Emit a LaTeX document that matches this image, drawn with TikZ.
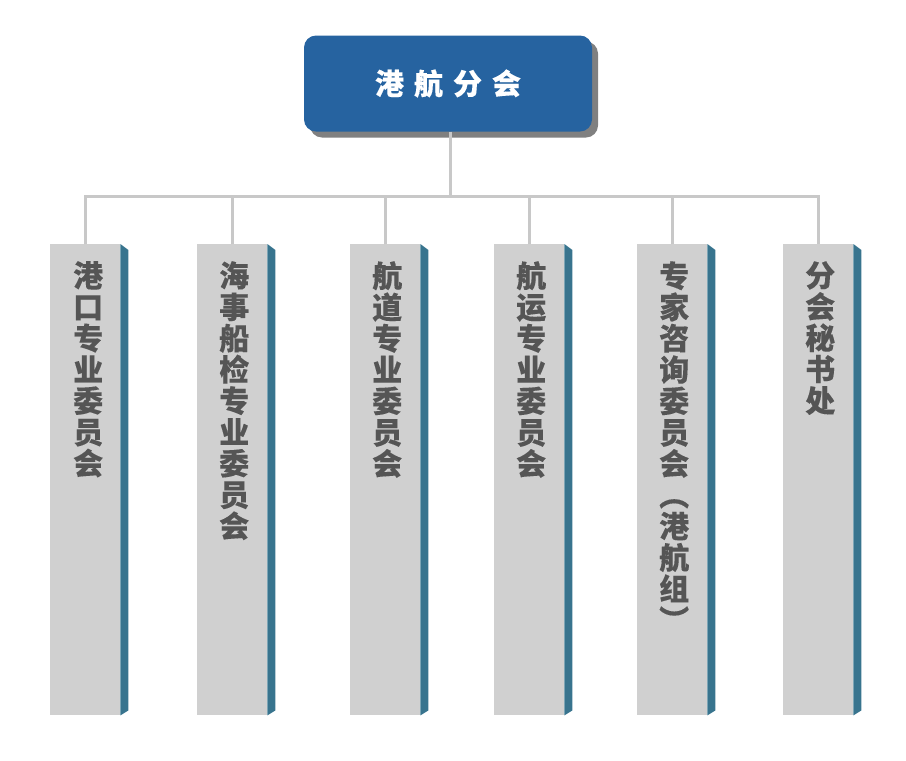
\documentclass[tikz,border=0pt]{standalone}
\usepackage{fontspec}
\newfontfamily\cjk{Noto Sans CJK SC}[FakeBold=0.15]
\definecolor{topblue}{RGB}{38,99,160}
\definecolor{shadowgrey}{RGB}{128,128,128}
\definecolor{facegrey}{RGB}{208,208,208}
\definecolor{sideteal}{RGB}{56,116,142}
\definecolor{txtgrey}{RGB}{85,85,85}
\definecolor{linegrey}{RGB}{200,200,200}
\tikzset{
  topbox/.style={minimum width=288pt, minimum height=96pt, inner sep=0pt,
    rounded corners=12pt, fill=topblue, text=white,
    preaction={fill=shadowgrey, transform canvas={shift={(6pt,-6pt)}}},
    font=\cjk\bfseries\fontsize{29}{30}\selectfont},
  colbox/.style={minimum width=70pt, minimum height=471pt, inner sep=0pt,
    fill=facegrey, anchor=north west},
  coltext/.style={anchor=north, inner sep=0pt, align=center, text=txtgrey,
    font=\cjk\bfseries\fontsize{30}{31.3}\selectfont},
  side/.style={fill=sideteal},
  conn/.style={draw=linegrey, line width=3pt}
}
\newcommand{\sideface}[1]{\fill[side] (#1.north east) -- ++(8,6) -- ([shift={(8,-5)}]#1.south east) -- (#1.south east) -- cycle;}
\begin{document}
\begin{tikzpicture}[x=1pt,y=-1pt]
\useasboundingbox (0,0) rectangle (906,761);
\node[topbox] (top) at (448,83.5) {港\hspace{10pt}航\hspace{10pt}分\hspace{10pt}会\hspace{12pt}};
\node[colbox] (b1) at (50,244) {};
\node[colbox] (b2) at (197,244) {};
\node[colbox] (b3) at (350,244) {};
\node[colbox] (b4) at (494,244) {};
\node[colbox] (b5) at (637,244) {};
\node[colbox] (b6) at (783,244) {};
\foreach \b in {b1,b2,b3,b4,b5,b6}{\sideface{\b}}
\coordinate (bus) at (450,196);
\draw[conn] (top.south -| bus) -- (bus);
\draw[conn] (b1.north) -- (b1.north |- bus) -- (b6.north |- bus) -- (b6.north);
\foreach \b in {b2,b3,b4,b5}{\draw[conn] (\b.north) -- (\b.north |- bus);}
\node[coltext] (t1) at ([yshift=-17pt,xshift=3pt]b1.north) {港\\口\\专\\业\\委\\员\\会};
\node[coltext] (t2) at ([yshift=-17pt,xshift=2pt]b2.north) {海\\事\\船\\检\\专\\业\\委\\员\\会};
\node[coltext] (t3) at ([yshift=-17pt,xshift=2pt]b3.north) {航\\道\\专\\业\\委\\员\\会};
\node[coltext] (t4) at ([yshift=-17pt,xshift=2pt]b4.north) {航\\运\\专\\业\\委\\员\\会};
\node[coltext] (t5) at ([yshift=-17pt,xshift=2pt]b5.north) {专\\家\\咨\\询\\委\\员\\会\\︵\\港\\航\\组\\︶};
\node[coltext] (t6) at ([yshift=-17pt,xshift=2pt]b6.north) {分\\会\\秘\\书\\处};
\end{tikzpicture}
\end{document}
